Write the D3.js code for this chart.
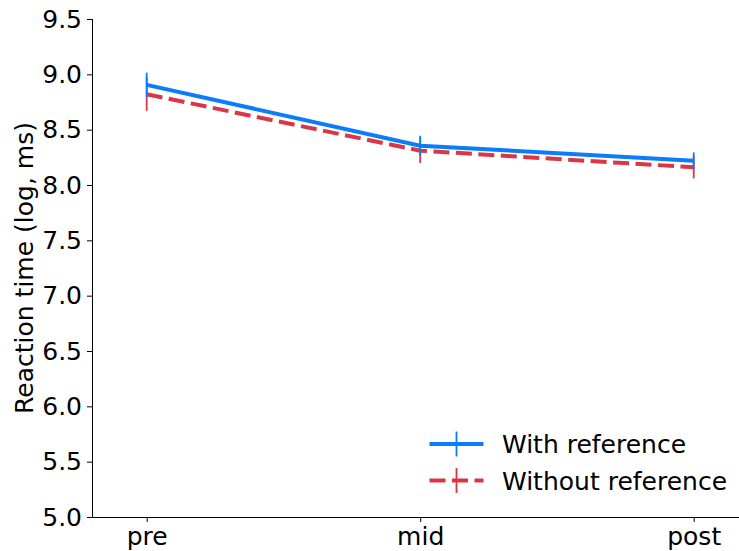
<!DOCTYPE html>
<html><head><meta charset="utf-8">
<script src="https://cdn.jsdelivr.net/npm/d3@7"></script>
<style>body{margin:0;background:#fff}svg{display:block}text{font-family:"DejaVu Sans",sans-serif}</style>
</head><body><svg id="c" width="739" height="551"></svg>
<script>
const categories = ["pre", "mid", "post"];
const withRef = [8.905, 8.355, 8.22];
const withRefErr = [0.11, 0.09, 0.075];
const withoutRef = [8.82, 8.31, 8.16];
const withoutRefErr = [0.15, 0.11, 0.10];
const yTicks = [5.0, 5.5, 6.0, 6.5, 7.0, 7.5, 8.0, 8.5, 9.0, 9.5];
const seriesNames = ["With reference", "Without reference"];

(function(){
const svg = d3.select("#c");
const fs = "25px";
const mLeft = 92, mTop = 19, mBottom = 517;
const x = d3.scaleLinear().domain([-0.2, 2.2]).range([mLeft, mLeft + 2.4 * 273.5]);
const y = d3.scaleLinear().domain([5, 9.5]).range([mBottom, mTop]);

const yAxis = svg.append("g").attr("transform", `translate(${mLeft},0)`)
  .call(d3.axisLeft(y).tickValues(yTicks).tickFormat(d3.format(".1f")).tickSize(5).tickPadding(5));
const xAxis = svg.append("g").attr("transform", `translate(0,${mBottom})`)
  .call(d3.axisBottom(x).tickValues([0,1,2]).tickFormat(i => categories[i]).tickSize(5).tickPadding(5));
[yAxis, xAxis].forEach(a => {
  a.attr("font-size", null).attr("font-family", null);
  a.selectAll("text").style("font-size", fs).attr("fill", "#000").style("font-family", "DejaVu Sans");
  a.selectAll("line").attr("stroke", "#000").attr("stroke-width", 1);
});
xAxis.select(".domain").attr("d", `M${mLeft},0.5H739`).attr("stroke", "#000");
yAxis.select(".domain").attr("d", `M0.5,${mTop}V${mBottom}`).attr("stroke", "#000");

svg.append("text").attr("transform", `translate(33,${(mTop+mBottom)/2}) rotate(-90)`)
  .attr("text-anchor", "middle").style("font-size", fs).text("Reaction time (log, ms)");

const series = [
  {vals: withRef, err: withRefErr, color: "#0a7df9", dash: null},
  {vals: withoutRef, err: withoutRefErr, color: "#dc3545", dash: "16,6.5"}
];
const line = d3.line().x((d,i) => x(i)).y(d => y(d));
series.slice().reverse().forEach(s => {
  svg.append("path").datum(s.vals).attr("d", line).attr("fill", "none")
    .attr("stroke", s.color).attr("stroke-width", 4).attr("stroke-dasharray", s.dash);
  svg.append("g").selectAll("line").data(s.vals).join("line")
    .attr("x1", (d,i) => x(i)).attr("x2", (d,i) => x(i))
    .attr("y1", (d,i) => y(d - s.err[i])).attr("y2", (d,i) => y(d + s.err[i]))
    .attr("stroke", s.color).attr("stroke-width", 1.8);
});

const lg = svg.append("g");
seriesNames.forEach((n, i) => {
  const s = series[i], yy = 444 + i * 36.5;
  lg.append("line").attr("x1", 429.5).attr("x2", 483.5).attr("y1", yy).attr("y2", yy)
    .attr("stroke", s.color).attr("stroke-width", 4).attr("stroke-dasharray", s.dash);
  lg.append("line").attr("x1", 456.5).attr("x2", 456.5).attr("y1", yy - 12.5).attr("y2", yy + 12.5)
    .attr("stroke", s.color).attr("stroke-width", 1.8);
  lg.append("text").attr("x", 502).attr("y", yy + 9).style("font-size", fs).text(n);
});
})();
</script></body></html>
